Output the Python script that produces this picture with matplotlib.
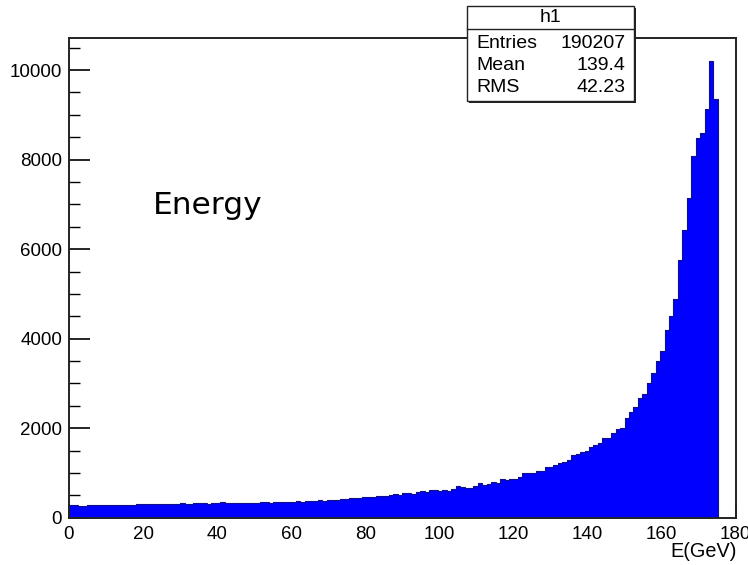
import matplotlib
matplotlib.use("Agg")
import matplotlib.pyplot as plt
import numpy as np
from matplotlib.patches import Rectangle
from matplotlib.ticker import MultipleLocator

# histogram contents, 1.2 GeV bins starting at 0
counts = [
    285, 280, 270, 272, 280, 282, 278, 280, 285, 283,
    288, 282, 290, 285, 292, 300, 296, 305, 300, 310,
    298, 305, 312, 306, 300, 318, 310, 315, 322, 318,
    325, 312, 320, 328, 340, 322, 330, 335, 318, 330,
    328, 338, 325, 345, 340, 336, 350, 345, 355, 350,
    360, 365, 355, 372, 380, 368, 390, 375, 400, 395,
    405, 412, 420, 430, 445, 440, 460, 470, 455, 480,
    490, 475, 500, 520, 510, 545, 560, 530, 565, 590,
    575, 610, 620, 600, 630, 605, 650, 700, 694, 660,
    657, 700, 770, 740, 760, 790, 780, 860, 840, 860,
    860, 900, 990, 993, 1000, 1052, 1052, 1127, 1127, 1180,
    1217, 1240, 1300, 1403, 1420, 1470, 1499, 1580, 1626, 1665,
    1776, 1776, 1888, 1980, 2000, 2224, 2371, 2470, 2671, 2767,
    3006, 3230, 3490, 3714, 4183, 4512, 4890, 5765, 6420, 7145,
    8076, 8487, 8599, 9120, 10200, 9344,
]
bin_width = 1.2
stat_names = ["Entries", "Mean", "RMS"]
stat_values = ["190207", "139.4", "42.23"]

edges = np.arange(len(counts) + 1) * bin_width

W, H = 748, 565
fig = plt.figure(figsize=(W / 100, H / 100), dpi=100)
ax = fig.add_axes([69 / W, 1 - 517.7 / H, 666.7 / W, 479.4 / H])

ax.stairs(counts, edges, fill=True, color="#0000ff", zorder=2)
ax.stairs(counts, edges, color="#10108a", linewidth=0.8, zorder=3)

ax.set_xlim(0, 180)
ax.set_ylim(0, 1.05 * max(counts))

ax.xaxis.set_major_locator(MultipleLocator(20))
ax.xaxis.set_minor_locator(MultipleLocator(5))
ax.yaxis.set_major_locator(MultipleLocator(2000))
ax.yaxis.set_minor_locator(MultipleLocator(500))

ax.tick_params(axis="x", which="major", direction="in", length=10, width=1.2, pad=6)
ax.tick_params(axis="x", which="minor", direction="in", length=5.5, width=1.0)
ax.tick_params(axis="y", which="major", direction="in", length=15, width=1.2, pad=5)
ax.tick_params(axis="y", which="minor", direction="in", length=8, width=1.0)
for lbl in ax.get_xticklabels() + ax.get_yticklabels():
    lbl.set_fontfamily("Liberation Sans")
    lbl.set_fontsize(13.5)

for s in ax.spines.values():
    s.set_linewidth(1.4)
    s.set_color("#222222")
    s.set_zorder(4)

ax.text(0.126, 0.652, "Energy", transform=ax.transAxes, fontsize=22.5,
        family="DejaVu Sans", va="center", ha="left")

fig.text(737 / W, 1 - 551.5 / H, "E(GeV)", ha="right", va="center",
         family="Liberation Sans", size=14.3)

# stats box
bx0, bx1, by0, by1 = 467.3, 634.3, 5.7, 100.7
fig.add_artist(Rectangle((bx0 / W + 2 / W, 1 - (by1 + 2) / H), (bx1 - bx0) / W, (by1 - by0) / H,
                         transform=fig.transFigure, facecolor="#222222", edgecolor="none", zorder=5))
fig.add_artist(Rectangle((bx0 / W, 1 - by1 / H), (bx1 - bx0) / W, (by1 - by0) / H,
                         transform=fig.transFigure, facecolor="white", edgecolor="#222222",
                         linewidth=1.0, zorder=6))
fig.add_artist(plt.Line2D([bx0 / W, bx1 / W], [1 - 29.3 / H, 1 - 29.3 / H],
                          transform=fig.transFigure, color="#222222", linewidth=1.0, zorder=7))
box_font = dict(family="Liberation Sans", size=14, zorder=8)
fig.text((bx0 + bx1) / 2 / W, 1 - 17.5 / H, "h1", ha="center", va="center", **box_font)
for i, (n, v) in enumerate(zip(stat_names, stat_values)):
    y = 1 - (43 + 22.5 * i) / H
    fig.text(476.7 / W, y, n, ha="left", va="center", **box_font)
    fig.text(625.7 / W, y, v, ha="right", va="center", **box_font)

fig.savefig("out.png", dpi=100)
